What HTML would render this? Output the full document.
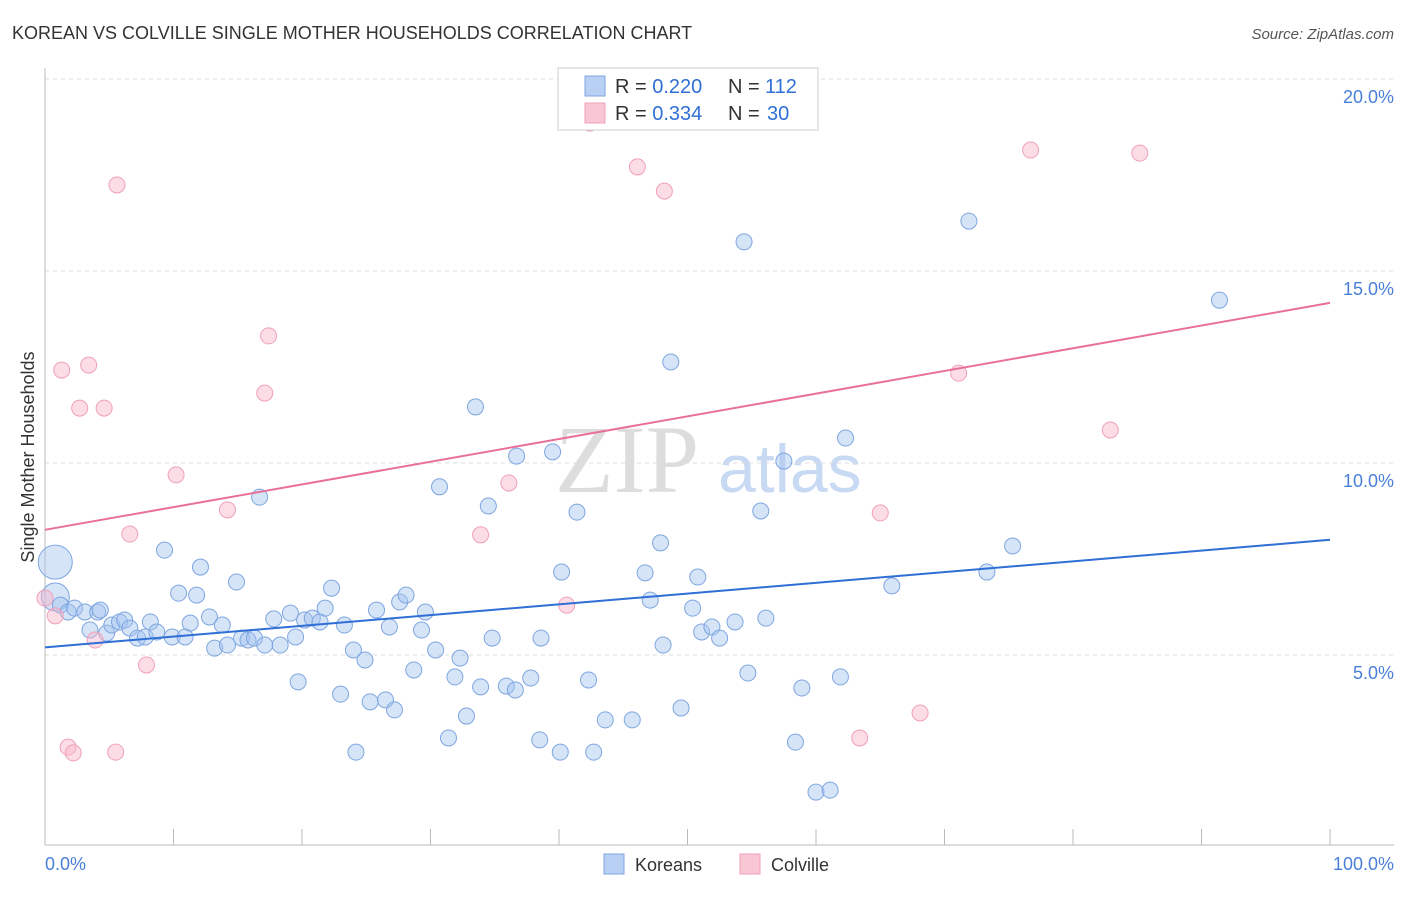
<!DOCTYPE html>
<html><head><meta charset="utf-8">
<style>
body{margin:0;background:#fff;font-family:"Liberation Sans",sans-serif;}
</style></head>
<body>
<svg id="chart" width="1406" height="892" xmlns="http://www.w3.org/2000/svg">
<text x="12" y="39" font-size="18" fill="#333">KOREAN VS COLVILLE SINGLE MOTHER HOUSEHOLDS CORRELATION CHART</text>
<text x="1394" y="39" font-size="15" fill="#555" text-anchor="end" font-style="italic">Source: ZipAtlas.com</text>
<text x="555" y="492" font-size="96" fill="#ddd" font-family="Liberation Serif">ZIP</text>
<text x="718" y="492" font-size="68" fill="#c8d9f3">atlas</text>
<g id="grid"></g>
<g id="marks"></g>
<text transform="translate(34,457) rotate(-90)" font-size="18" fill="#333" text-anchor="middle">Single Mother Households</text>
<text x="45" y="870" font-size="18" fill="#4a7fd8">0.0%</text>
<text x="1394" y="870" font-size="18" fill="#4a7fd8" text-anchor="end">100.0%</text>
<g>
<rect x="558" y="68" width="260" height="62" fill="#fff" stroke="#ccc"/>
<rect x="585" y="76" width="20" height="20" fill="#b8d0f4" stroke="#7ea6e0"/>
<rect x="585" y="103" width="20" height="20" fill="#f9c6d4" stroke="#f0a0b8"/>
<text x="615" y="93" font-size="20" fill="#333">R = <tspan fill="#2f6fd6">0.220</tspan></text>
<text x="728" y="93" font-size="20" fill="#333">N = </text>
<text x="765" y="93" font-size="20" fill="#2f6fd6">112</text>
<text x="615" y="120" font-size="20" fill="#333">R = <tspan fill="#2f6fd6">0.334</tspan></text>
<text x="728" y="120" font-size="20" fill="#333">N = </text>
<text x="767" y="120" font-size="20" fill="#2f6fd6">30</text>
</g>
<g>
<rect x="604" y="854" width="20" height="20" fill="#b8d0f4" stroke="#7ea6e0"/>
<text x="635" y="871" font-size="18" fill="#333">Koreans</text>
<rect x="740" y="854" width="20" height="20" fill="#f9c6d4" stroke="#f0a0b8"/>
<text x="771" y="871" font-size="18" fill="#333">Colville</text>
</g>
</svg>
<script>
const yTicks=[5,10,15,20];
const xTickVals=[0,10,20,30,40,50,60,70,80,90,100];
const koreanX=[0.8,0.8,1.2,1.8,2.3,3.1,3.5,4.1,4.3,4.8,5.2,5.8,6.2,6.6,7.2,7.8,8.2,8.7,9.3,9.9,10.4,10.9,11.3,11.8,12.1,12.8,13.2,13.8,14.2,14.9,15.3,15.8,16.3,16.7,17.1,17.8,18.3,19.1,19.5,19.7,20.2,20.8,21.4,21.8,22.3,23.0,23.3,24.0,24.2,24.9,25.3,25.8,26.5,26.8,27.2,27.6,28.1,28.7,29.3,29.6,30.4,30.7,31.4,31.9,32.3,32.8,33.5,33.9,34.5,34.8,35.9,36.6,36.7,37.8,38.5,38.6,39.5,40.1,40.2,41.4,42.3,42.7,43.6,45.7,46.7,47.1,47.9,48.1,48.7,49.5,50.4,50.8,51.1,51.9,52.5,53.7,54.4,54.7,55.7,56.1,57.5,58.4,58.9,60.0,61.1,61.9,62.3,65.9,71.9,73.3,75.3,91.4];
const koreanY=[7.42,6.51,6.30,6.12,6.22,6.12,5.65,6.12,6.17,5.57,5.78,5.86,5.91,5.70,5.44,5.47,5.86,5.60,7.73,5.47,6.61,5.47,5.83,6.56,7.29,5.99,5.18,5.78,5.26,6.90,5.44,5.39,5.44,9.11,5.26,5.94,5.26,6.09,5.47,4.30,5.91,5.96,5.86,6.22,6.74,3.98,5.78,5.13,2.47,4.87,3.78,6.17,3.83,5.73,3.57,6.38,6.56,4.61,5.65,6.12,5.13,9.38,2.84,4.43,4.92,3.41,11.46,4.17,8.88,5.44,4.19,4.09,10.18,4.40,2.79,5.44,10.29,2.47,7.16,8.72,4.35,2.47,3.31,3.31,7.14,6.43,7.92,5.26,12.63,3.62,6.22,7.03,5.60,5.73,5.44,5.86,15.76,4.53,8.75,5.96,10.05,2.73,4.14,1.43,1.48,4.43,10.65,6.80,16.30,7.16,7.84,14.24];
const colvilleX=[0,0.8,1.3,1.8,2.2,2.7,3.4,3.9,4.6,5.5,5.6,6.6,7.9,10.2,14.2,17.1,17.4,33.9,36.1,40.6,42.4,46.1,48.2,63.4,65.0,68.1,71.1,76.7,82.9,85.2];
const colvilleY=[6.48,6.02,12.42,2.60,2.45,11.43,12.55,5.39,11.43,2.47,17.24,8.15,4.74,9.69,8.78,11.82,13.31,8.13,9.48,6.30,18.85,17.71,17.08,2.84,8.70,3.49,12.34,18.15,10.86,18.07];
const koreanTrend=[5.2,8.0];
const colvilleTrend=[8.26,14.17];
const NS="http://www.w3.org/2000/svg";
const X=v=>45+v*12.85, Y=v=>847-v*38.4;
function mk(t,a,p){const e=document.createElementNS(NS,t);for(const k in a)e.setAttribute(k,a[k]);p.appendChild(e);return e;}
const g=document.getElementById('grid'), m=document.getElementById('marks');
yTicks.forEach(t=>{
 const l=mk('line',{x1:45,x2:1394,y1:Y(t),y2:Y(t),stroke:'#ddd','stroke-dasharray':'4,4'},g);
 
 
 const tx=mk('text',{x:1394,y:Y(t)+24,'font-size':18,fill:'#4a7fd8','text-anchor':'end'},g);
 tx.textContent=t.toFixed(1)+'%';
 
 
});
const ax=mk('line',{x1:45,x2:1394,y1:845,y2:845,stroke:'#bbb'},g);


const ay=mk('line',{x1:45,x2:45,y1:68,y2:845,stroke:'#bbb'},g);


xTickVals.forEach(t=>{
 const l=mk('line',{x1:X(t),x2:X(t),y1:829,y2:845,stroke:'#bbb'},g);
 
 
});
koreanX.forEach((x,i)=>{
 const r=i===0?17:(i===1?14:8);
 const c=mk('circle',{cx:X(x),cy:Y(koreanY[i]),r:r,fill:'rgba(164,196,240,0.45)',stroke:'#7ea6e0','stroke-width':1},m);
 
 
});
colvilleX.forEach((x,i)=>{
 const c=mk('circle',{cx:X(x),cy:Y(colvilleY[i]),r:8,fill:'rgba(248,180,200,0.45)',stroke:'#f0a0b8','stroke-width':1},m);
 
 
});
const tb=mk('line',{x1:X(0),x2:X(100),y1:Y(koreanTrend[0]),y2:Y(koreanTrend[1]),stroke:'#2f6fd6','stroke-width':2},m);


const tp=mk('line',{x1:X(0),x2:X(100),y1:Y(colvilleTrend[0]),y2:Y(colvilleTrend[1]),stroke:'#e8709a','stroke-width':2},m);


</script>
</body></html>
